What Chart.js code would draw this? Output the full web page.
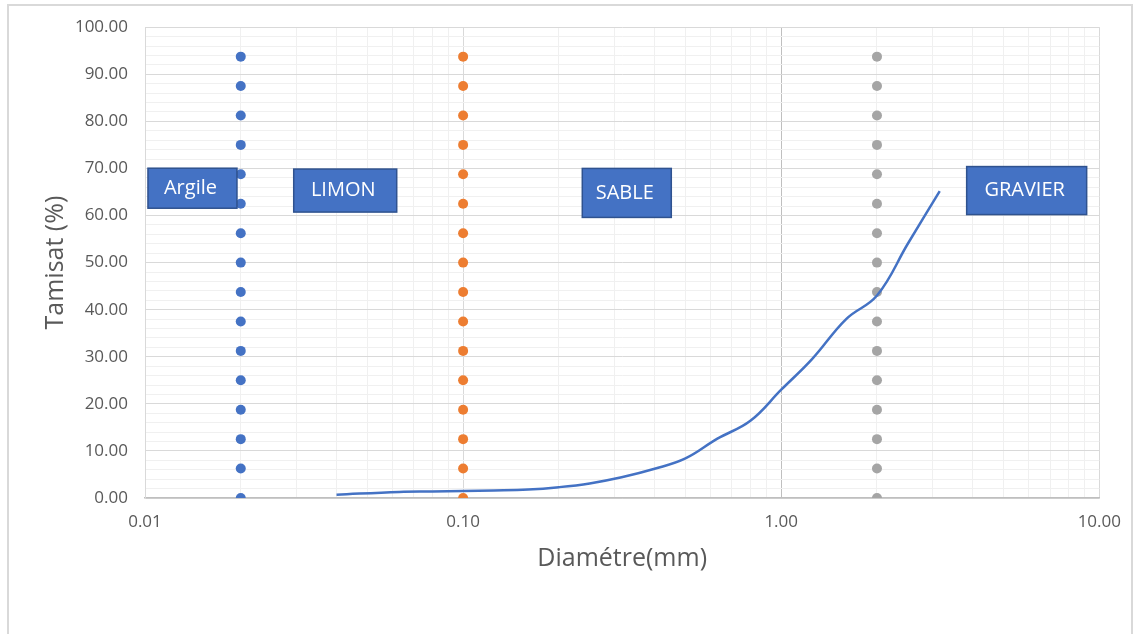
<!DOCTYPE html>
<html>
<head>
<meta charset="utf-8">
<script src="https://cdn.jsdelivr.net/npm/chart.js@4"></script>
<style>
  html, body { margin: 0; padding: 0; background: #fff; }
  #frame { position: absolute; left: 7px; top: 4px; width: 1122px; height: 700px; border: 2px solid #d9d9d9; }
  #wrap { position: absolute; left: 0; top: 0; width: 1135px; height: 634px; }
</style>
</head>
<body>
<div id="frame"></div>
<div id="wrap"><canvas id="granulo"></canvas></div>
<script>
// Courbe granulométrique (diamètre en mm, tamisat en %)
const diametres = [0.04, 0.063, 0.08, 0.1, 0.125, 0.16, 0.2, 0.25, 0.315, 0.4, 0.5, 0.63, 0.8, 1, 1.25, 1.6, 2, 2.5, 3.15];
const tamisat   = [0.7, 1.3, 1.4, 1.5, 1.6, 1.8, 2.3, 3.1, 4.4, 6.2, 8.4, 12.6, 16.4, 23.0, 29.5, 38.0, 43.0, 54.0, 65.2];

// Limites de classes (lignes de points verticales)
const limiteArgile = 0.02;
const limiteLimon  = 0.1;
const limiteSable  = 2;
const pointsLimite = [0, 6.25, 12.5, 18.75, 25, 31.25, 37.5, 43.75, 50, 56.25, 62.5, 68.75, 75, 81.25, 87.5, 93.75];

// Étiquettes des zones
const zones     = ['Argile', 'LIMON', 'SABLE', 'GRAVIER'];
const zonesDiam = [0.0141, 0.0426, 0.327, 5.91];
const zonesPct  = [65.8, 65.3, 64.8, 65.3];

// Graduations
const xMajeures = [0.01, 0.1, 1, 10];
const yMax = 100;

const styleZones = {
    tailles: [[89, 40], [103, 43], [89, 49], [120, 48]],
    fond: '#4472C4',
    bord: '#2F528F'
};

const pointsEn = (y, x) => y.map(v => ({ x: x, y: v }));

// Plugin pour dessiner les boîtes de texte des zones
const zonesPlugin = {
    id: 'zones',
    afterDatasetsDraw(chart) {
        const ctx = chart.ctx;
        const xs = chart.scales.x;
        const ys = chart.scales.y;
        ctx.save();
        zones.forEach((nom, i) => {
            const cx = xs.getPixelForValue(zonesDiam[i]);
            const cy = ys.getPixelForValue(zonesPct[i]);
            const [w, h] = styleZones.tailles[i];
            ctx.fillStyle = styleZones.fond;
            ctx.fillRect(cx - w / 2, cy - h / 2, w, h);
            ctx.strokeStyle = styleZones.bord;
            ctx.lineWidth = 1.5;
            ctx.strokeRect(cx - w / 2, cy - h / 2, w, h);
            ctx.fillStyle = '#ffffff';
            ctx.font = '20px "Open Sans"';
            ctx.textAlign = 'center';
            ctx.textBaseline = 'middle';
            ctx.fillText(nom, cx - 2, cy);
        });
        ctx.restore();
    }
};

new Chart(document.getElementById('granulo'), {
    type: 'scatter',
    data: {
        datasets: [
            {
                label: 'Courbe',
                data: diametres.map((d, i) => ({ x: d, y: tamisat[i] })),
                showLine: true,
                borderColor: '#4472C4',
                borderWidth: 2.5,
                pointRadius: 0,
                tension: 0.4,
                fill: false
            },
            {
                label: 'Argile',
                data: pointsEn(pointsLimite, limiteArgile),
                backgroundColor: '#4472C4',
                borderWidth: 0,
                pointRadius: 5
            },
            {
                label: 'Limon',
                data: pointsEn(pointsLimite, limiteLimon),
                backgroundColor: '#ED7D31',
                borderWidth: 0,
                pointRadius: 5
            },
            {
                label: 'Sable',
                data: pointsEn(pointsLimite, limiteSable),
                backgroundColor: '#A5A5A5',
                borderWidth: 0,
                pointRadius: 5
            }
        ]
    },
    options: {
        responsive: true,
        maintainAspectRatio: false,
        animation: false,
        layout: { padding: { left: 37, right: 34, top: 27, bottom: 56 } },
        plugins: {
            legend: { display: false },
            tooltip: { enabled: false }
        },
        scales: {
            x: {
                type: 'logarithmic',
                min: 0.01,
                max: 10,
                afterBuildTicks: (scale) => {
                    const t = [];
                    for (let k = 0; k < xMajeures.length - 1; k++) {
                        for (let m = 1; m < 10; m++) {
                            t.push({ value: +(xMajeures[k] * m).toPrecision(3) });
                        }
                    }
                    t.push({ value: xMajeures[xMajeures.length - 1] });
                    scale.ticks = t;
                },
                afterFit: (scale) => { scale.height = 80; },
                ticks: {
                    autoSkip: false,
                    maxRotation: 0,
                    padding: 14,
                    color: '#595959',
                    font: { family: 'Open Sans', size: 17 },
                    callback: (v) => xMajeures.includes(v) ? v.toFixed(2) : ''
                },
                grid: {
                    drawTicks: false,
                    lineWidth: 1,
                    color: (c) => {
                        const v = c.tick ? c.tick.value : null;
                        if (v === 1) return '#bfbfbf';
                        if (xMajeures.includes(v)) return '#d9d9d9';
                        return '#f0f0f0';
                    }
                },
                border: { display: true, color: '#bfbfbf', width: 1.5 },
                title: {
                    display: true,
                    text: 'Diamétre(mm)',
                    color: '#595959',
                    font: { family: 'Open Sans', size: 25 }
                }
            },
            y: {
                min: 0,
                max: yMax,
                afterFit: (scale) => { scale.width = 108; },
                ticks: {
                    stepSize: 2,
                    autoSkip: false,
                    padding: 17,
                    color: '#595959',
                    font: { family: 'Open Sans', size: 17 },
                    callback: (v) => v % 10 === 0 ? v.toFixed(2) : ''
                },
                grid: {
                    drawTicks: false,
                    lineWidth: 1,
                    color: (c) => (c.tick && c.tick.value % 10 === 0) ? '#d9d9d9' : '#f0f0f0'
                },
                border: { display: true, color: '#d9d9d9' },
                title: {
                    display: true,
                    text: 'Tamisat (%)',
                    color: '#595959',
                    font: { family: 'Open Sans', size: 25 }
                }
            }
        }
    },
    plugins: [zonesPlugin]
});
</script>
</body>
</html>
